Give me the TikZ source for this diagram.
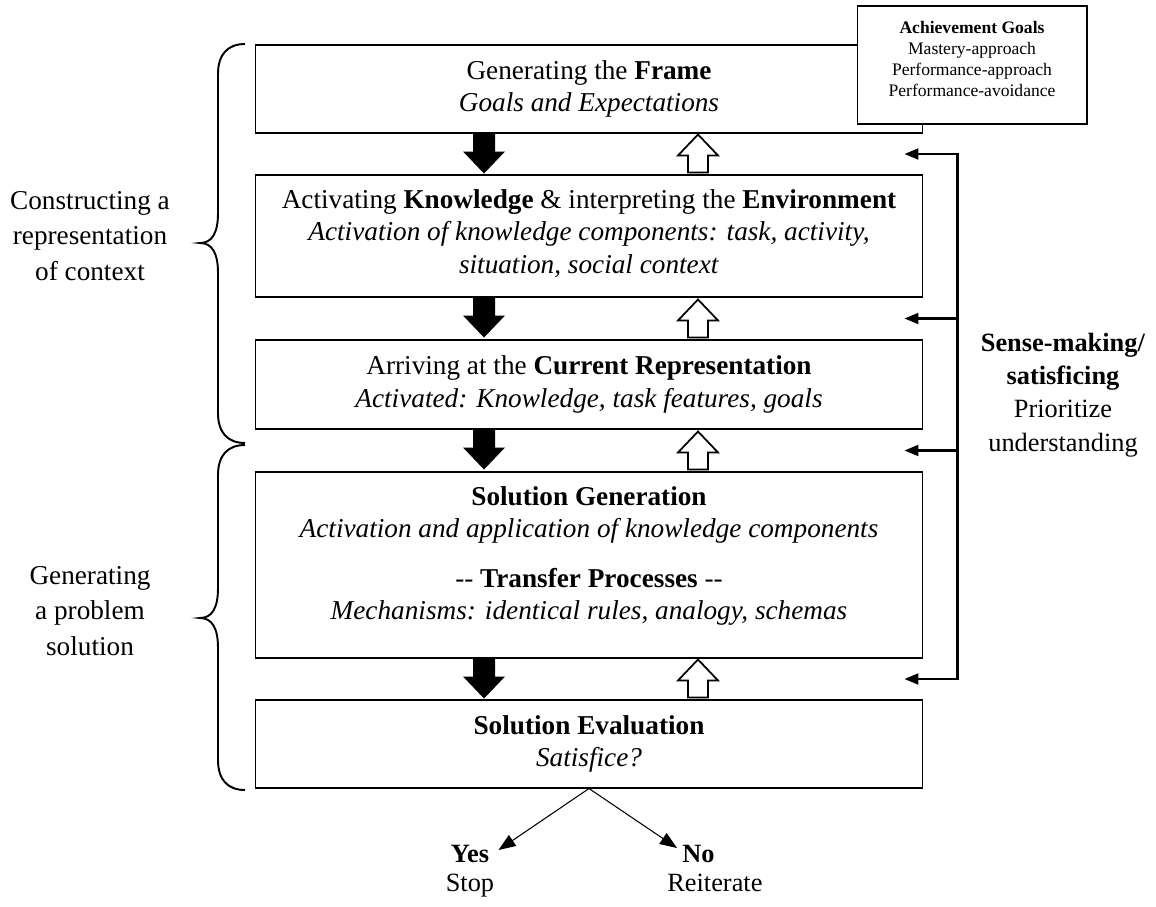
\documentclass[tikz,border=0pt]{standalone}
\usepackage{fontspec}
\setmainfont{Liberation Serif}
\usepackage{tikz}
\usetikzlibrary{calc, positioning, arrows.meta}

\tikzset{
  stage/.style = {draw, line width = 0.6pt, minimum width = 13.36cm, align = center, inner sep = 0pt, font = \fontsize{15.5}{18.5}\selectfont},
  goalbox/.style = {draw, fill = white, line width = 0.6pt, minimum width = 4.6cm, minimum height = 2.36cm, align = center, inner sep = 0pt, font = \fontsize{10}{12}\selectfont},
  sidelabel/.style = {align = center, inner sep = 0pt, font = \fontsize{15.5}{20}\selectfont},
  outcome/.style = {inner sep = 0pt, font = \fontsize{15}{16.5}\selectfont},
  downBlock/.style = {fill = black},
  upBlock/.style = {draw = black, line width = 1pt, fill = white},
  feedback/.style = {line width = 1.2pt, -{Triangle[length = 0.28cm, width = 0.22cm]}},
  decision/.style = {line width = 0.6pt, -{Triangle[length = 0.34cm, width = 0.26cm]}},
  curly/.style = {line width = 1.1pt},
}

\begin{document}
\begin{tikzpicture}[x = 0.02cm, y = -0.02cm]
  \def\centerX{589}
  \def\downX{-105}
  \def\upX{109}
  \def\barX{34}
  \def\tipX{-19}

  \useasboundingbox (0, 0) rectangle (1156, 906);

  % ------------------------
  % stages
  % ------------------------

  \node[stage, minimum height = 1.76cm] (frame) at (\centerX, 89) {Generating the \textbf{Frame}\\ \textit{Goals and Expectations}};
  \node[stage, minimum height = 2.44cm] (know) at (\centerX, 236) {Activating \textbf{Knowledge} \& interpreting the \textbf{Environment}\\ \textit{Activation of knowledge components: task, activity,}\\ \textit{situation, social context}\\[-12.9pt] \mbox{}};
  \node[stage, minimum height = 1.78cm] (curr) at (\centerX, 384.5) {Arriving at the \textbf{Current Representation}\\ \textit{Activated: Knowledge, task features, goals}};
  \node[stage, minimum height = 3.72cm] (gen) at (\centerX, 565) {\textbf{Solution Generation}\\ \textit{Activation and application of knowledge components}\\[0.34cm] -{}- \textbf{Transfer Processes} -{}-\\ \textit{Mechanisms: identical rules, analogy, schemas}\\[-0.17cm] \mbox{}};
  \node[stage, minimum height = 1.76cm] (eval) at (\centerX, 744) {\textbf{Solution Evaluation}\\ \textit{Satisfice?}};

  \node[goalbox] (goals) at (972, 65) {\textbf{Achievement Goals}\\ Mastery-approach\\ Performance-approach\\ Performance-avoidance\\[-5.2pt] \mbox{}};

  % ------------------------
  % block arrows between stages
  % ------------------------

  \foreach \upper/\lower in {frame/know, know/curr, curr/gen, gen/eval} {
    \fill[downBlock] ($(\upper.south) + (\downX, 0)$) ++(-11, 0) -- ++(0, 18) -- ++(-10, 0) -- ++(21, 22) -- ++(21, -22) -- ++(-10, 0) -- ++(0, -18) -- cycle;
    \draw[upBlock] ($(\lower.north) + (\upX, 0)$) ++(-10, -2) -- ++(0, -17) -- ++(-10, 0) -- ++(20, -21) -- ++(20, 21) -- ++(-10, 0) -- ++(0, 17) -- cycle;
  }

  % ------------------------
  % sense-making loop
  % ------------------------

  \foreach \upper/\lower [count = \i] in {frame/know, know/curr, curr/gen, gen/eval} {
    \coordinate (fbBar\i) at ($($(\upper.south east)!0.5!(\lower.north east)$) + (\barX, 0)$);
    \coordinate (fbTip\i) at ($($(\upper.south east)!0.5!(\lower.north east)$) + (\tipX, 0)$);
    \draw[feedback] (fbBar\i) -- (fbTip\i);
  }
  \draw[line width = 1.2pt, line cap = rect] (fbBar1) -- (fbBar4);

  \node[sidelabel, font = \fontsize{15}{19}\selectfont] (sense) at (1063, 395) {\textbf{Sense-making/}\\ \textbf{satisficing}\\ Prioritize\\ understanding};

  % ------------------------
  % braces
  % ------------------------

  \draw[curly] (245, 44) .. controls (228, 44) and (218, 54) .. (218, 74) -- (218, 213) .. controls (218, 233) and (212, 243) .. (200, 243) .. controls (212, 243) and (218, 253) .. (218, 273) -- (218, 413) .. controls (218, 433) and (228, 443) .. (245, 443);
  \draw[curly] (245, 445) .. controls (228, 445) and (218, 455) .. (218, 475) -- (218, 588) .. controls (218, 608) and (212, 618) .. (200, 618) .. controls (212, 618) and (218, 628) .. (218, 648) -- (218, 760) .. controls (218, 780) and (228, 790) .. (245, 790);

  \node[sidelabel] (context) at (90, 236) {Constructing a\\ representation\\ of context};
  \node[sidelabel] (solution) at (90, 611) {Generating\\ a problem\\ solution};

  % ------------------------
  % outcome
  % ------------------------

  \node[outcome, align = center, anchor = north] (yes) at (470, 845) {\textbf{Yes}\\ Stop};
  \node[outcome, align = left, anchor = north west] (no) at (667, 845) {\hspace{0.3cm}\textbf{No}\\ Reiterate};
  \coordinate (yesTip) at ($(yes.north east) + (4, 5)$);
  \coordinate (noTip) at ($(no.north west) + (10, 3)$);
  \draw[decision] (eval.south) -- (yesTip);
  \draw[decision] (eval.south) -- (noTip);
\end{tikzpicture}
\end{document}
